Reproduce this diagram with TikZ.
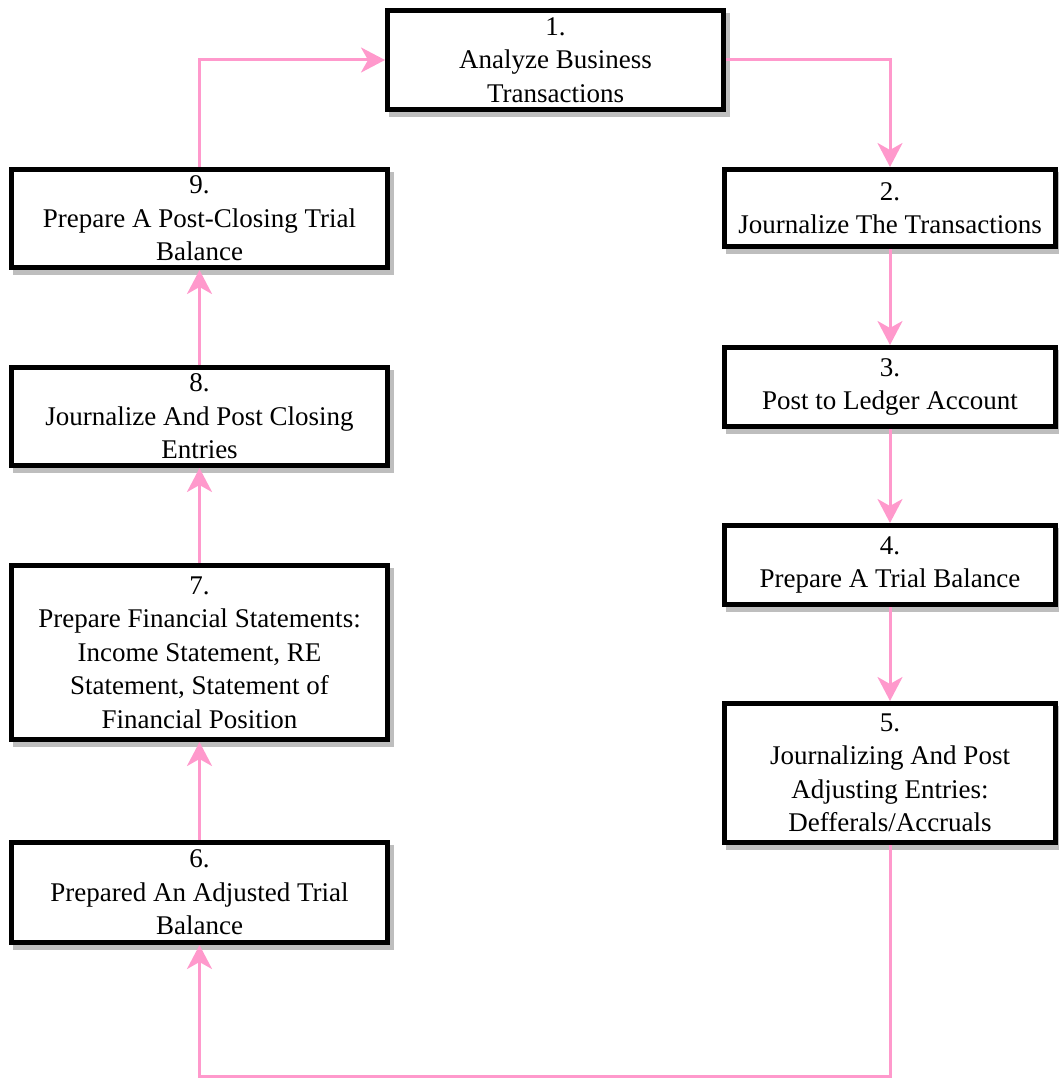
\documentclass[tikz,border=0pt]{standalone}
\usepackage{fontspec}
\setmainfont{Liberation Serif}
\usetikzlibrary{arrows.meta,shadows}
\definecolor{linkpink}{RGB}{255,153,204}
\definecolor{shadowgray}{RGB}{190,190,190}
\begin{document}
\begin{tikzpicture}[x=1pt,y=-1pt,
  stepbox/.style={draw=black, line width=5pt, fill=white, rectangle,
    inner sep=0pt, align=center,
    font=\fontsize{27}{33.5}\selectfont,
    drop shadow={shadow xshift=4pt, shadow yshift=-5pt, fill=shadowgray, draw=shadowgray, line width=5pt, opacity=1}},
  flow/.style={draw=linkpink, line width=3pt,
    -{Stealth[length=24pt, width=25pt, inset=7pt]}}]
\useasboundingbox (0,0) rectangle (1059,1078);
\node[stepbox, minimum width=336pt, minimum height=99pt] (b1) at (555.5,60) {1.\\Analyze Business\\Transactions};
\node[stepbox, minimum width=331pt, minimum height=77pt] (b2) at (890,208) {2.\\Journalize The Transactions};
\node[stepbox, minimum width=331pt, minimum height=79pt] (b3) at (890,387) {3.\\Post to Ledger Account};
\node[stepbox, minimum width=331pt, minimum height=79pt] (b4) at (890,565) {4.\\Prepare A Trial Balance};
\node[stepbox, minimum width=331pt, minimum height=139pt] (b5) at (890,773) {5.\\Journalizing And Post\\Adjusting Entries:\\Defferals/Accruals};
\node[stepbox, minimum width=376pt, minimum height=100pt] (b6) at (199.5,892.5) {6.\\Prepared An Adjusted Trial\\Balance};
\node[stepbox, minimum width=376pt, minimum height=174pt] (b7) at (199.5,652.5) {7.\\Prepare Financial Statements:\\Income Statement, RE\\Statement, Statement of\\Financial Position};
\node[stepbox, minimum width=376pt, minimum height=98pt] (b8) at (199.5,416.5) {8.\\Journalize And Post Closing\\Entries};
\node[stepbox, minimum width=376pt, minimum height=98pt] (b9) at (199.5,218.5) {9.\\Prepare A Post-Closing Trial\\Balance};
\coordinate (bend) at (0,1076);
\draw[flow] (b9.north) |- (b1.west);
\draw[flow] (b1.east) -| (b2.north);
\draw[flow] (b2.south) -- (b3.north);
\draw[flow] (b3.south) -- (b4.north);
\draw[flow] (b4.south) -- (b5.north);
\draw[flow] (b5.south) -- (b5.south |- bend) -| (b6.south);
\draw[flow] (b6.north) -- (b7.south);
\draw[flow] (b7.north) -- (b8.south);
\draw[flow] (b8.north) -- (b9.south);
\end{tikzpicture}
\end{document}
